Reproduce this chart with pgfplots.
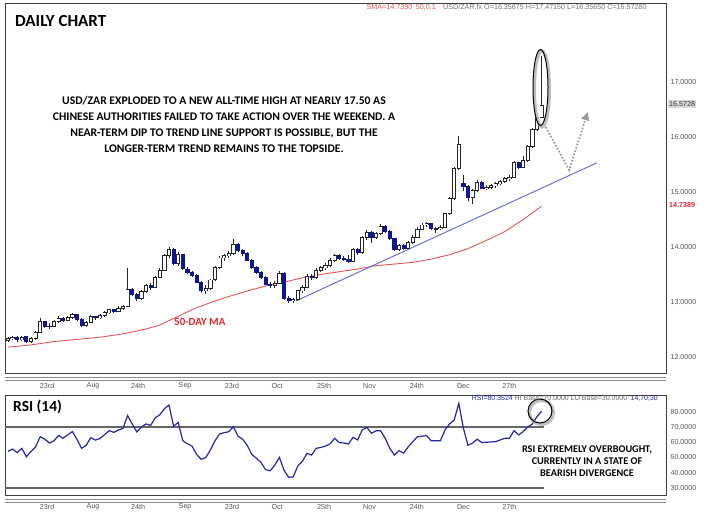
\documentclass[border=0pt]{standalone}
\usepackage{pgfplots}
\pgfplotsset{compat=1.18}
\usepackage{pgfplotstable}
\usepackage{fontspec}
\setmainfont{Liberation Sans}
\newfontfamily\calib{Carlito}
\usetikzlibrary{arrows.meta}
\newcommand{\fs}[1]{\fontsize{#1}{#1}\selectfont}

\definecolor{candleblue}{RGB}{14,22,150}
\definecolor{rsiblue}{RGB}{38,38,170}
\definecolor{trendblue}{RGB}{110,110,225}
\definecolor{smared}{RGB}{232,85,85}
\definecolor{labred}{RGB}{225,40,40}
\definecolor{axgray}{RGB}{85,85,85}

% daily candles, i = trading day
\pgfplotstableread{
i O H L C
0 12.30 12.37 12.27 12.34
1 12.34 12.39 12.30 12.36
2 12.36 12.38 12.28 12.31
3 12.31 12.38 12.29 12.36
4 12.37 12.39 12.26 12.28
5 12.28 12.36 12.25 12.33
6 12.33 12.47 12.31 12.45
7 12.45 12.70 12.43 12.64
8 12.64 12.66 12.52 12.56
9 12.56 12.62 12.50 12.55
10 12.55 12.68 12.54 12.65
11 12.65 12.74 12.62 12.70
12 12.70 12.73 12.63 12.67
13 12.67 12.74 12.65 12.71
14 12.71 12.80 12.69 12.77
15 12.77 12.78 12.66 12.68
16 12.68 12.70 12.55 12.57
17 12.57 12.66 12.55 12.63
18 12.63 12.76 12.61 12.73
19 12.73 12.75 12.68 12.71
20 12.71 12.79 12.69 12.76
21 12.76 12.83 12.73 12.80
22 12.80 12.88 12.78 12.86
23 12.86 12.88 12.80 12.83
24 12.83 12.92 12.81 12.89
25 12.89 12.95 12.85 12.92
26 12.92 13.62 12.90 13.22
27 13.22 13.26 13.10 13.14
28 13.14 13.17 13.02 13.06
29 13.06 13.22 13.04 13.19
30 13.19 13.33 13.17 13.30
31 13.30 13.34 13.22 13.27
32 13.27 13.48 13.25 13.45
33 13.45 13.62 13.43 13.58
34 13.58 13.88 13.56 13.84
35 13.84 14.00 13.80 13.96
36 13.96 13.98 13.68 13.70
37 13.70 13.90 13.66 13.86
38 13.86 13.88 13.58 13.60
39 13.60 13.64 13.50 13.53
40 13.53 13.57 13.45 13.48
41 13.48 13.50 13.34 13.36
42 13.36 13.38 13.16 13.20
43 13.20 13.30 13.15 13.25
44 13.25 13.42 13.22 13.40
45 13.40 13.65 13.38 13.62
46 13.62 13.84 13.60 13.80
47 13.80 13.88 13.74 13.84
48 13.84 13.93 13.80 13.88
49 13.88 14.15 13.86 14.05
50 14.05 14.08 13.90 13.93
51 13.93 13.97 13.84 13.88
52 13.88 13.90 13.74 13.76
53 13.76 13.78 13.60 13.62
54 13.62 13.65 13.50 13.53
55 13.53 13.56 13.42 13.45
56 13.45 13.47 13.30 13.32
57 13.32 13.36 13.26 13.30
58 13.30 13.38 13.25 13.34
59 13.34 13.56 13.32 13.52
60 13.52 13.54 13.04 13.07
61 13.07 13.10 12.98 13.02
62 13.02 13.08 12.99 13.04
63 13.04 13.22 13.02 13.20
64 13.20 13.30 13.16 13.27
65 13.27 13.50 13.25 13.46
66 13.46 13.50 13.40 13.44
67 13.44 13.62 13.42 13.58
68 13.58 13.66 13.54 13.62
69 13.62 13.70 13.58 13.66
70 13.66 13.80 13.64 13.76
71 13.76 13.88 13.72 13.85
72 13.85 13.87 13.76 13.79
73 13.79 13.84 13.74 13.78
74 13.78 13.86 13.70 13.74
75 13.74 13.98 13.72 13.95
76 13.95 13.98 13.86 13.90
77 13.90 14.20 13.88 14.17
78 14.17 14.30 14.12 14.27
79 14.27 14.29 14.08 14.18
80 14.18 14.27 14.15 14.24
81 14.24 14.42 14.22 14.38
82 14.38 14.40 14.26 14.29
83 14.29 14.31 14.12 14.15
84 14.15 14.17 13.92 13.95
85 13.95 14.05 13.93 14.02
86 14.02 14.06 13.95 13.98
87 13.98 14.10 13.96 14.08
88 14.08 14.22 14.06 14.18
89 14.18 14.36 14.16 14.32
90 14.32 14.44 14.30 14.40
91 14.40 14.46 14.36 14.42
92 14.42 14.44 14.30 14.33
93 14.33 14.37 14.25 14.34
94 14.34 14.40 14.30 14.36
95 14.36 14.62 14.34 14.60
96 14.60 14.90 14.58 14.88
97 14.88 15.46 14.86 15.42
98 15.42 16.02 15.40 15.86
99 15.15 15.30 15.02 15.10
100 15.10 15.12 14.84 14.90
101 14.90 15.06 14.78 15.03
102 15.03 15.22 15.00 15.18
103 15.18 15.20 15.05 15.07
104 15.07 15.12 15.03 15.09
105 15.09 15.14 15.05 15.11
106 15.11 15.18 15.08 15.15
107 15.15 15.22 15.12 15.19
108 15.19 15.27 15.16 15.25
109 15.25 15.30 15.20 15.27
110 15.27 15.56 15.25 15.53
111 15.53 15.55 15.42 15.45
112 15.45 15.65 15.43 15.58
113 15.58 15.86 15.55 15.82
114 15.82 16.16 15.80 16.13
115 16.13 16.40 16.10 16.36
116 16.35675 17.4715 16.3565 16.5728
}\candles

% 50-day moving average
\pgfplotstableread{
i s
0 12.18
5 12.22
10 12.28
15 12.32
20 12.36
25 12.42
30 12.51
33 12.58
36 12.70
40 12.86
44 12.99
48 13.10
52 13.20
56 13.29
60 13.36
64 13.44
68 13.50
72 13.55
76 13.60
80 13.66
84 13.69
88 13.72
92 13.78
96 13.86
100 13.97
104 14.12
108 14.28
112 14.50
116 14.74
}\sma

% RSI (14)
\pgfplotstableread{
i r
0 54
1 55.5
2 53.2
3 56
4 50.5
5 54
6 57
7 63.6
8 62
9 59.5
10 61
11 64.5
12 62.6
13 65
14 67
15 61.9
16 56
17 58
18 63
19 61.4
20 62.5
21 65
22 67.6
23 66.5
24 68
25 69.1
26 77.5
27 72
28 66.8
29 70
30 72
31 71
32 76
33 78
34 82
35 84.4
36 70.5
37 73
38 61
39 59
40 57.5
41 52
42 48.8
43 50
44 55
45 61
46 65.5
47 66.3
48 66.9
49 70.2
50 64
51 62
52 58
53 52
54 49.5
55 46.7
56 42
57 41.3
58 45
59 50.1
60 41.7
61 37
62 37.3
63 44.4
64 47.5
65 52.7
66 51.6
67 56
68 56.6
69 57.5
70 58.9
71 62.6
72 59.8
73 59.5
74 58.9
75 63.2
76 61.5
77 68
78 69.8
79 65.9
80 67.5
81 67.5
82 62.6
83 56
84 51.6
85 54.5
86 52.8
87 57
88 60.4
89 63.6
90 64
91 64.3
92 61
93 61
94 61
95 68
96 72
97 74.6
98 85.5
99 69.1
100 58
101 59.5
102 62
103 59.8
104 60
105 60.2
106 60.4
107 61.5
108 62.6
109 62.6
110 67.6
111 64.8
112 67
113 70
114 72
115 76.8
116 80.35
}\rsi

\begin{document}
\begin{tikzpicture}
\useasboundingbox (0,0) rectangle (706bp,-515bp);
\pgfplotsset{
  pane/.style={
    scale only axis, anchor=north west, width=661bp,
    xmin=-0.652, xmax=143.04,
    axis line style={draw=black!75, line width=0.8bp},
    major tick length=0pt, tick style={draw=none},
    yticklabel pos=right,
    yticklabel style={font=\fs{7.2}, text=axgray, anchor=west, xshift=1bp},
    xtick={8.5,18.5,28.3,38.5,48.7,58.5,68.7,78.6,88.9,99,109},
    xticklabels={23rd,Aug,24th,Sep,23rd,Oct,25th,Nov,24th,Dec,27th},
    xticklabel style={font=\fs{7.2}, text=axgray, anchor=center},
  },
  wick/.style={draw=none, mark=none, forget plot,
    error bars/.cd, y dir=both, y explicit, error mark=none,
    error bar style={draw=black!85, line width=0.9bp}},
  body/.style 2 args={draw=none, mark=none, forget plot,
    error bars/.cd, y dir=both, y explicit, error mark=none,
    error bar style={draw=#1, line width=#2}},
}

\begin{axis}[pane, at={(5bp,-3bp)}, height=370bp,
  ymin=11.709, ymax=18.436,
  ytick={12,13,14,15,16,17},
  yticklabels={12.0000,13.0000,14.0000,15.0000,16.0000,17.0000},
  xticklabel style={yshift=-13bp}]

\addplot[smared, line width=0.9bp] table[x=i, y=s] {\sma};
\addplot[trendblue, line width=1bp] coordinates {(62.6,13.02) (128,15.53)};

% wicks
\addplot[wick] table[x=i, y expr={(\thisrow{H}+\thisrow{L})/2},
  y error expr={(\thisrow{H}-\thisrow{L})/2}] {\candles};
% rising days: hollow bodies
\addplot[restrict expr to domain={\thisrow{C}-\thisrow{O}}{0:100},
  body={black!85}{4.2bp}]
  table[x=i, y expr={(\thisrow{O}+\thisrow{C})/2},
  y error expr={abs(\thisrow{C}-\thisrow{O})/2+0.009}] {\candles};
\addplot[restrict expr to domain={\thisrow{C}-\thisrow{O}}{0:100},
  body={white}{2.4bp}]
  table[x=i, y expr={(\thisrow{O}+\thisrow{C})/2},
  y error expr={max(abs(\thisrow{C}-\thisrow{O})/2-0.009,0)}] {\candles};
% falling days: blue bodies
\addplot[restrict expr to domain={\thisrow{C}-\thisrow{O}}{-100:-0.0001},
  body={candleblue}{4.2bp}]
  table[x=i, y expr={(\thisrow{O}+\thisrow{C})/2},
  y error expr={abs(\thisrow{C}-\thisrow{O})/2+0.009}] {\candles};

\draw[black!40, line width=1.8bp, dash pattern=on 1.6bp off 1.8bp,
  -{Triangle[width=8bp,length=8bp]}]
  (axis cs:116.9,16.18) -- (axis cs:122,15.4) -- (axis cs:126,16.45);
\end{axis}

\begin{axis}[pane, at={(5bp,-395bp)}, height=100bp,
  ymin=25.41, ymax=90.98,
  ytick={30,40,50,60,70,80},
  yticklabels={30.0000,40.0000,50.0000,60.0000,70.0000,80.0000},
  xticklabel style={yshift=-12bp}]
\addplot[black!60, line width=1.2bp] coordinates {(-0.652,70) (116.5,70)};
\addplot[black!60, line width=1.2bp] coordinates {(-0.652,30) (116.5,30)};
\addplot[rsiblue, line width=1.2bp] table[x=i, y=r] {\rsi};
\end{axis}

% date strips
\draw[black!45, line width=0.8bp] (5bp,-377bp) -- (666bp,-377bp);
\draw[black!45, line width=0.8bp] (5bp,-380bp) -- (666bp,-380bp);
\draw[black!45, line width=0.8bp] (5bp,-499bp) -- (666bp,-499bp);
\draw[black!45, line width=0.8bp] (5bp,-502bp) -- (666bp,-502bp);

% highlight rings
\draw[black!25, line width=3bp] (542bp,-89bp) ellipse [x radius=7.5bp, y radius=38bp];
\draw[black, line width=1bp] (540.5bp,-87.5bp) ellipse [x radius=7.5bp, y radius=38bp];
\draw[black!25, line width=3bp] (541.5bp,-412.5bp) circle [radius=12bp];
\draw[black, line width=1bp] (540bp,-411bp) circle [radius=12bp];

% texts
\node[anchor=west, inner sep=0] at (15bp,-21bp) {\calib\bfseries\fs{17}DAILY CHART};
\node[align=center, inner sep=0, font=\calib\bfseries\fontsize{11.7}{16.3}\selectfont]
  at (224bp,-124.5bp)
  {USD/ZAR EXPLODED TO A NEW ALL-TIME HIGH AT NEARLY 17.50 AS\\
   CHINESE AUTHORITIES FAILED TO TAKE ACTION OVER THE WEEKEND. A\\
   NEAR-TERM DIP TO TREND LINE SUPPORT IS POSSIBLE, BUT THE\\
   LONGER-TERM TREND REMAINS TO THE TOPSIDE.};
\node[anchor=west, inner sep=0, text=labred] at (174bp,-322bp) {\calib\bfseries\fs{11}50-DAY MA};
\node[anchor=west, inner sep=0] at (13bp,-407bp) {\calib\bfseries\fs{15.5}RSI (14)};
\node[align=center, inner sep=0, font=\calib\bfseries\fontsize{10.3}{12}\selectfont]
  at (587bp,-461bp)
  {RSI EXTREMELY OVERBOUGHT,\\CURRENTLY IN A STATE OF\\BEARISH DIVERGENCE};

\node[anchor=east, inner sep=0, text=labred!80] at (436bp,-7bp) {\fs{7.2}SMA=14.7390\enspace 50,0,1};
\node[anchor=west, inner sep=0, text=black!55] at (443bp,-7bp)
  {\fs{7.2}USD/ZAR.fx O=16.35675 H=17.47150 L=16.35650 C=16.57280};
\node[anchor=east, inner sep=0] at (658bp,-399bp)
  {\fs{7}\textcolor{rsiblue}{RSI=80.3524} \textcolor{black!60}{HI Base=70.0000 LO Base=30.0000}\enspace\textcolor{rsiblue}{14,70,30}};

\node[anchor=west, fill=black!15, inner xsep=1bp, inner ysep=1.5bp, text=black!80]
  at (668bp,-104bp) {\fs{7.2}16.5728};
\node[anchor=west, inner xsep=1bp, text=labred] at (668bp,-205bp) {\fs{7.2}\bfseries 14.7389};
\end{tikzpicture}
\end{document}
